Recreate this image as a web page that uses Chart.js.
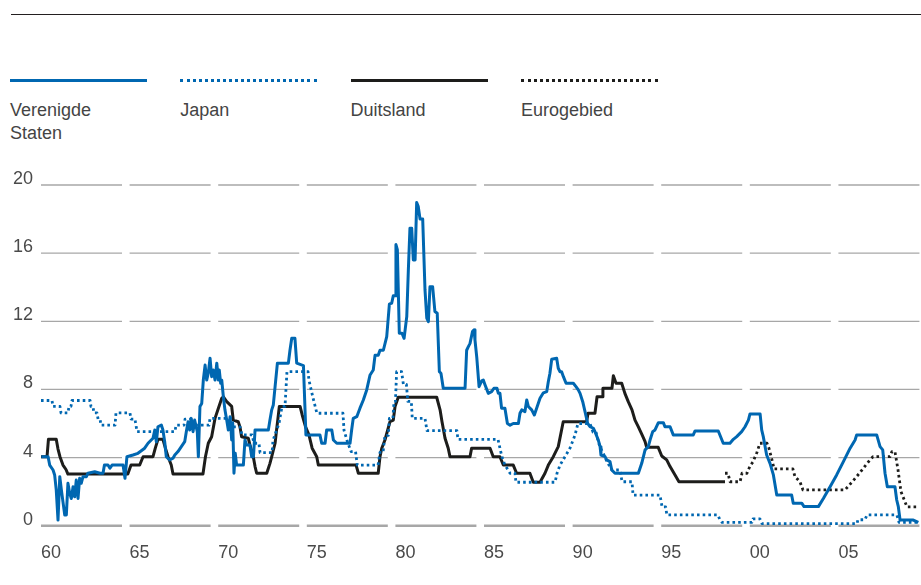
<!DOCTYPE html>
<html lang="nl">
<head>
<meta charset="utf-8">
<title>Beleidsrente</title>
<script src="https://cdn.jsdelivr.net/npm/chart.js@4.4.1/dist/chart.umd.min.js"></script>
<style>
  html, body { margin: 0; padding: 0; background: #fff; }
  #wrap { position: relative; width: 921px; height: 585px; overflow: hidden; font-family: 'Liberation Sans', Arial, sans-serif; }
  #bovenlijn { position: absolute; left: 11px; right: 0; top: 14px; border-top: 1.5px solid #231f20; }
  .item { position: absolute; top: 79px; width: 137px; }
  .item .lijn { height: 0; border-top-width: 3px; border-top-color: inherit; }
  .item .tekst { margin-top: 17px; font-size: 18px; line-height: 23px; color: #444; width: 110px; }
  canvas { position: absolute; left: 0; top: 0; }
</style>
</head>
<body>
<div id="wrap">
  <div id="bovenlijn"></div>
  <div id="legenda"></div>
  <canvas id="renteChart" width="921" height="585"></canvas>
</div>
<script>
'use strict';

// As-indeling
const tickJaren = [1960, 1965, 1970, 1975, 1980, 1985, 1990, 1995, 2000, 2005];
const tickLabels = ['60', '65', '70', '75', '80', '85', '90', '95', '00', '05'];
const yTicks = [0, 4, 8, 12, 16, 20];

// Reeksen: [jaar, rente %]
const verenigdeStaten = [
  [1960.02,4.05],[1960.40,4.05],[1960.49,3.56],[1960.68,3.27],[1960.77,2.98],[1960.86,2.1],[1960.96,0.33],[1961.06,2.88],
  [1961.15,2.1],[1961.24,1.4],[1961.34,0.63],[1961.43,0.63],[1961.52,2.49],[1961.62,1.9],[1961.71,1.6],[1961.81,2.29],
  [1961.90,1.7],[1961.99,2.68],[1962.09,1.6],[1962.18,2.78],[1962.27,2.49],[1962.37,2.88],[1962.56,2.88],[1962.65,3.08],
  [1963.03,3.17],[1963.33,3.08],[1963.50,3.08],[1963.58,3.56],[1963.78,3.56],[1963.89,3.38],[1964.01,3.56],[1964.63,3.56],
  [1964.74,2.78],[1964.85,4.05],[1965.19,4.15],[1965.47,4.25],[1965.85,4.55],[1966.04,4.84],[1966.32,5.13],[1966.42,5.62],
  [1966.51,4.93],[1966.60,5.81],[1966.79,5.91],[1966.88,5.62],[1966.98,4.93],[1967.07,4.05],[1967.26,3.86],[1967.45,3.96],
  [1967.55,4.15],[1967.73,4.35],[1967.92,4.64],[1968.11,4.93],[1968.20,5.52],[1968.30,6.1],[1968.39,5.62],[1968.48,6.3],
  [1968.58,5.52],[1968.67,6.2],[1968.82,5.52],[1968.88,4.05],[1968.97,7.0],[1969.07,7.18],[1969.16,8.55],[1969.26,9.43],
  [1969.35,8.55],[1969.44,8.95],[1969.54,9.83],[1969.63,8.75],[1969.72,9.14],[1969.82,8.55],[1969.92,9.54],[1970.01,8.55],
  [1970.06,9.14],[1970.14,8.36],[1970.20,8.55],[1970.29,7.57],[1970.38,6.8],[1970.48,6.2],[1970.57,5.62],[1970.67,6.4],
  [1970.76,5.03],[1970.82,6.0],[1970.89,3.08],[1970.96,4.25],[1971.04,3.56],[1971.42,3.56],[1971.51,5.03],[1971.60,4.74],
  [1971.79,4.74],[1971.89,4.05],[1971.99,4.05],[1972.08,5.62],[1972.83,5.62],[1972.92,6.2],[1973.02,6.8],[1973.11,7.09],
  [1973.21,8.16],[1973.34,9.54],[1973.96,9.54],[1974.05,10.3],[1974.15,11.0],[1974.33,11.0],[1974.43,9.54],[1974.81,9.4],
  [1974.95,5.33],[1975.74,5.33],[1975.84,4.84],[1976.03,4.84],[1976.12,5.62],[1976.41,5.62],[1976.50,5.03],[1976.69,4.84],
  [1977.44,4.84],[1977.53,5.62],[1977.62,6.3],[1977.82,6.4],[1978.00,6.9],[1978.19,7.38],[1978.38,7.97],[1978.57,8.85],
  [1978.75,9.14],[1978.85,10.0],[1979.03,10.0],[1979.13,10.3],[1979.32,10.3],[1979.51,11.1],[1979.66,13.0],[1979.79,13.06],
  [1979.88,13.5],[1979.98,13.5],[1980.03,16.5],[1980.11,16.2],[1980.22,11.3],[1980.37,11.3],[1980.49,11.0],[1980.64,12.27],
  [1980.73,15.0],[1980.82,17.46],[1980.92,17.46],[1981.01,15.6],[1981.11,15.6],[1981.20,18.97],[1981.29,18.73],[1981.39,18.0],
  [1981.54,18.0],[1981.67,13.84],[1981.77,12.18],[1981.86,11.98],[1981.95,14.03],[1982.10,14.03],[1982.23,12.57],[1982.36,12.47],
  [1982.48,9.04],[1982.57,8.95],[1982.70,8.07],[1983.93,8.07],[1984.02,10.3],[1984.11,10.5],[1984.21,10.7],[1984.35,11.4],
  [1984.44,11.5],[1984.49,10.9],[1984.59,9.9],[1984.72,8.16],[1984.87,8.5],[1984.96,8.55],[1985.06,8.26],[1985.24,7.77],
  [1985.43,7.87],[1985.56,8.07],[1985.73,8.07],[1985.81,7.77],[1985.90,7.77],[1985.99,6.9],[1986.18,6.9],[1986.32,6.0],
  [1986.47,5.9],[1986.65,6.0],[1986.94,6.0],[1987.03,6.6],[1987.13,6.8],[1987.31,6.7],[1987.41,7.38],[1987.50,7.0],
  [1987.69,6.8],[1987.84,6.5],[1987.97,6.9],[1988.16,7.48],[1988.35,7.8],[1988.54,7.87],[1988.63,8.46],[1988.72,8.95],
  [1988.82,9.77],[1989.10,9.83],[1989.19,9.24],[1989.29,9.04],[1989.38,9.04],[1989.48,8.75],[1989.63,8.36],[1990.04,8.36],
  [1990.19,8.16],[1990.32,7.97],[1990.42,7.77],[1990.57,7.28],[1990.70,6.7],[1990.85,6.0],[1990.98,5.81],[1991.17,5.72],
  [1991.26,5.52],[1991.45,5.03],[1991.55,4.64],[1991.60,4.15],[1991.83,4.05],[1991.92,3.86],[1992.11,3.76],[1992.21,3.27],
  [1992.39,3.08],[1993.71,3.08],[1993.90,3.66],[1994.09,4.45],[1994.27,4.64],[1994.37,5.03],[1994.52,5.52],[1994.65,5.62],
  [1994.84,6.05],[1995.12,6.05],[1995.21,5.81],[1995.50,5.81],[1995.68,5.33],[1996.81,5.33],[1996.91,5.56],[1998.22,5.56],
  [1998.50,4.84],[1998.88,4.84],[1999.07,5.07],[1999.26,5.23],[1999.54,5.52],[1999.73,5.81],[1999.92,6.2],[2000.01,6.56],
  [2000.58,6.56],[2000.67,5.62],[2000.76,5.23],[2000.95,4.15],[2001.14,3.66],[2001.33,2.98],[2001.52,1.8],[2002.36,1.8],
  [2002.45,1.32],[2002.93,1.32],[2003.06,1.12],[2003.87,1.12],[2004.15,1.6],[2004.53,2.29],[2004.90,2.98],[2005.28,3.76],
  [2005.66,4.55],[2005.94,5.03],[2006.03,5.33],[2007.16,5.33],[2007.35,4.64],[2007.50,4.45],[2007.63,3.08],[2007.76,2.29],
  [2008.19,2.29],[2008.29,1.51],[2008.38,1.12],[2008.48,0.33],[2009.23,0.33],[2009.51,0.2]
];

const japan = [
  [1960.00,7.35],[1960.62,7.35],[1960.68,7.0],[1961.07,7.0],[1961.13,6.62],[1961.52,6.62],[1961.58,7.0],[1961.69,7.0],
  [1961.75,7.35],[1962.77,7.35],[1962.82,7.0],[1962.93,7.0],[1962.99,6.62],[1963.16,6.62],[1963.22,6.26],[1963.33,6.26],
  [1963.39,5.9],[1964.18,5.9],[1964.23,6.62],[1965.02,6.62],[1965.08,6.26],[1965.30,6.26],[1965.36,5.9],[1965.42,5.52],
  [1967.56,5.52],[1967.62,5.9],[1968.07,5.9],[1968.13,6.26],[1968.58,6.26],[1968.63,5.9],[1969.48,5.9],[1969.54,6.3],
  [1970.78,6.3],[1970.84,5.8],[1971.23,5.8],[1971.34,5.33],[1971.91,5.33],[1972.02,4.84],[1972.30,4.84],[1972.36,4.29],
  [1973.04,4.29],[1973.09,5.0],[1973.26,5.5],[1973.43,6.0],[1973.60,7.0],[1973.77,7.0],[1973.88,9.04],[1975.07,9.04],
  [1975.12,8.55],[1975.24,8.0],[1975.35,7.5],[1975.57,6.6],[1977.04,6.6],[1977.10,5.6],[1977.30,4.9],[1977.50,4.35],
  [1977.75,4.35],[1977.85,3.56],[1979.02,3.56],[1979.13,4.3],[1979.30,4.3],[1979.41,5.3],[1979.60,5.3],[1979.66,6.3],
  [1979.86,6.3],[1979.92,7.3],[1980.00,7.3],[1980.07,9.04],[1980.35,9.04],[1980.45,8.3],[1980.62,8.3],[1980.70,7.3],
  [1980.90,7.3],[1980.95,6.3],[1981.67,6.3],[1981.78,5.58],[1983.47,5.58],[1983.53,5.07],[1985.79,5.07],[1985.90,4.55],
  [1986.01,4.05],[1986.18,3.56],[1986.47,3.08],[1986.75,3.08],[1986.80,2.55],[1989.01,2.55],[1989.12,3.08],[1989.29,3.56],
  [1989.57,4.05],[1989.85,4.55],[1990.13,5.3],[1990.30,6.0],[1990.98,6.0],[1991.15,5.5],[1991.32,5.5],[1991.43,5.0],
  [1991.55,4.6],[1991.71,4.3],[1991.94,3.75],[1992.22,3.27],[1992.67,3.27],[1992.79,2.58],[1993.35,2.58],[1993.41,1.8],
  [1994.93,1.8],[1995.05,1.1],[1995.25,1.1],[1995.32,0.63],[1998.20,0.63],[1998.31,0.35],[1998.43,0.2],[2000.12,0.2],
  [2000.18,0.4],[2000.57,0.4],[2000.69,0.12],[2006.05,0.12],[2006.10,0.35],[2006.50,0.35],[2006.61,0.63],[2008.30,0.63],
  [2008.42,0.2],[2009.49,0.2]
];

const duitsland = [
  [1960.00,4.05],[1960.34,4.05],[1960.42,5.07],[1960.86,5.07],[1960.96,4.5],[1961.07,4.05],[1961.24,3.56],[1961.41,3.3],
  [1961.52,3.03],[1964.90,3.03],[1965.08,3.56],[1965.57,3.56],[1965.76,4.05],[1966.32,4.05],[1966.45,4.55],[1966.60,5.07],
  [1966.88,5.07],[1967.02,4.55],[1967.17,4.05],[1967.35,3.56],[1967.45,3.03],[1969.14,3.03],[1969.28,4.05],[1969.44,4.84],
  [1969.63,5.22],[1969.82,6.3],[1970.01,6.9],[1970.20,7.48],[1970.29,7.57],[1970.48,7.28],[1970.76,7.0],[1970.85,6.2],
  [1971.13,6.1],[1971.23,5.8],[1971.32,5.22],[1971.70,5.13],[1971.79,4.74],[1971.98,4.05],[1972.08,3.47],[1972.17,3.08],
  [1972.74,3.08],[1972.92,3.66],[1973.02,4.05],[1973.21,4.84],[1973.28,5.5],[1973.36,6.2],[1973.45,7.0],[1974.62,7.0],
  [1974.74,6.5],[1974.93,5.8],[1975.12,5.33],[1975.30,4.55],[1975.56,4.05],[1975.65,3.56],[1977.78,3.56],[1977.91,3.08],
  [1979.03,3.08],[1979.13,4.05],[1979.23,4.55],[1979.41,5.03],[1979.69,6.1],[1979.88,6.2],[1979.98,7.0],[1980.16,7.54],
  [1982.33,7.54],[1982.52,6.8],[1982.63,6.1],[1982.80,5.13],[1982.98,4.55],[1983.08,4.05],[1984.21,4.05],[1984.30,4.55],
  [1985.34,4.55],[1985.52,4.05],[1985.90,4.05],[1986.09,3.56],[1986.65,3.56],[1986.84,3.08],[1987.59,3.08],[1987.78,2.55],
  [1988.16,2.55],[1988.44,3.08],[1988.63,3.56],[1988.91,4.05],[1989.19,4.64],[1989.47,6.1],[1990.79,6.1],[1990.87,6.6],
  [1991.26,6.6],[1991.38,7.57],[1991.66,7.57],[1991.71,8.07],[1992.22,8.07],[1992.30,8.8],[1992.45,8.36],[1992.77,8.36],
  [1992.95,7.77],[1993.14,7.28],[1993.35,6.8],[1993.52,6.2],[1993.71,5.8],[1993.92,5.33],[1994.09,4.93],[1994.18,4.6],
  [1994.83,4.6],[1995.03,4.09],[1995.31,3.86],[1995.50,3.47],[1995.78,2.98],[1996.00,2.58],[1998.60,2.58]
];

const eurogebied = [
  [1998.60,3.08],[1998.77,3.08],[1998.88,2.58],[1999.45,2.58],[1999.56,3.08],[1999.84,3.08],[2000.01,3.5],[2000.18,3.75],
  [2000.40,4.3],[2000.57,4.84],[2000.97,4.84],[2001.08,4.55],[2001.25,3.86],[2001.37,3.33],[2002.43,3.33],[2002.55,2.88],
  [2002.83,2.58],[2003.00,2.1],[2005.37,2.1],[2005.80,2.6],[2006.20,3.1],[2006.50,3.5],[2006.78,3.86],[2006.95,4.05],
  [2007.91,4.05],[2008.02,4.35],[2008.19,4.35],[2008.36,3.3],[2008.53,2.0],[2008.87,1.1],[2009.49,1.1]
];

const BLAUW = '#0067b1';
const ZWART = '#1d1d1b';
const STIPPEL = [2.6, 3.1];
const X_MIN = 1960;
const X_MAX = 2009.66;

const punten = reeks => reeks.map(([x, y]) => ({ x, y }));

// Rasterlijnen in stukjes per 5 jaar, met kleine opening
const rasterSegmenten = {
  id: 'rasterSegmenten',
  beforeDatasetsDraw(chart) {
    const { ctx, chartArea, scales: { x, y } } = chart;
    const opening = 7.6;
    ctx.save();
    ctx.strokeStyle = '#a7a7a7';
    yTicks.forEach(v => {
      const py = y.getPixelForValue(v);
      ctx.lineWidth = v === 0 ? 2.4 : 1.3;
      tickJaren.forEach(j => {
        const x0 = x.getPixelForValue(j);
        const x1 = Math.min(x.getPixelForValue(j + 5) - opening, chartArea.right);
        ctx.beginPath();
        ctx.moveTo(x0, py);
        ctx.lineTo(x1, py);
        ctx.stroke();
      });
    });
    ctx.restore();
  }
};

Chart.defaults.font.family = "'Liberation Sans', Arial, sans-serif";
Chart.defaults.font.size = 18;
Chart.defaults.color = '#4a4a4a';

const chart = new Chart(document.getElementById('renteChart'), {
  type: 'line',
  data: {
    datasets: [
      { label: 'Verenigde Staten', data: punten(verenigdeStaten), borderColor: BLAUW, borderWidth: 3 },
      { label: 'Japan', data: punten(japan), borderColor: BLAUW, borderWidth: 2.8, borderDash: STIPPEL },
      { label: 'Duitsland', data: punten(duitsland), borderColor: ZWART, borderWidth: 3 },
      { label: 'Eurogebied', data: punten(eurogebied), borderColor: ZWART, borderWidth: 2.8, borderDash: STIPPEL }
    ]
  },
  options: {
    responsive: false,
    animation: false,
    devicePixelRatio: 1,
    layout: { padding: { top: 185, left: 0, right: 0, bottom: 0 } },
    elements: {
      point: { radius: 0 },
      line: { tension: 0, borderJoinStyle: 'round', borderCapStyle: 'butt' }
    },
    plugins: { legend: { display: false }, tooltip: { enabled: false } },
    scales: {
      x: {
        type: 'linear',
        min: X_MIN,
        max: X_MAX,
        grid: { display: false, drawTicks: false },
        border: { display: false },
        afterBuildTicks: s => { s.ticks = tickJaren.map(value => ({ value })); },
        afterFit: s => { s.height = 59.3; },
        ticks: {
          autoSkip: false,
          maxRotation: 0,
          minRotation: 0,
          align: 'start',
          padding: 17,
          callback: (v, i) => tickLabels[i]
        }
      },
      y: {
        min: 0,
        max: 20,
        grid: { display: false, drawTicks: false },
        border: { display: false },
        afterBuildTicks: s => { s.ticks = yTicks.map(value => ({ value })); },
        afterFit: s => { s.width = 41; },
        ticks: { padding: 8, labelOffset: -6 }
      }
    }
  },
  plugins: [rasterSegmenten]
});

// Legenda boven de grafiek, opgebouwd uit de datasets
const legenda = document.getElementById('legenda');
chart.data.datasets.forEach((ds, i) => {
  const item = document.createElement('div');
  item.className = 'item';
  item.style.left = (10 + i * 170.3) + 'px';
  item.innerHTML = `
    <div class="lijn" style="border-top-style:${ds.borderDash ? 'dotted' : 'solid'};border-top-color:${ds.borderColor}"></div>
    <div class="tekst">${ds.label}</div>
  `;
  legenda.appendChild(item);
});
</script>
</body>
</html>
